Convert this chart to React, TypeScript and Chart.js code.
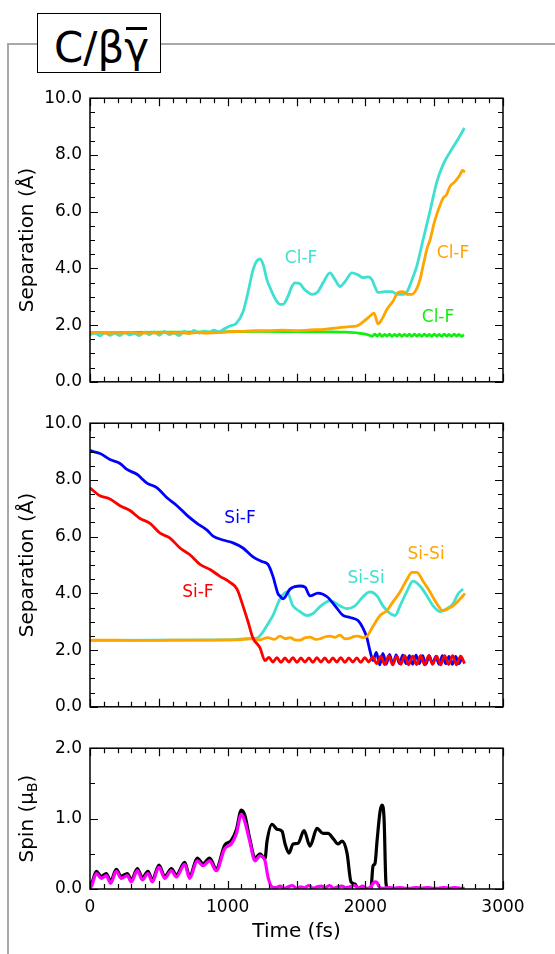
import React, { useEffect, useRef } from 'react';
import { Chart, registerables } from 'chart.js';
Chart.register(...registerables);

const FONT = 'DejaVu Sans';

const CYAN = '#40E0D0';
const ORANGE = '#FFA500';
const GREEN = '#11EE11';
const BLUE = '#0000FF';
const RED = '#FF0000';
const MAGENTA = '#FF00FF';
const BLACK = '#000000';

const X_TICK_LABELS = [0, 1000, 2000, 3000];
const SEP_TICKS = [0, 2, 4, 6, 8, 10];
const SPIN_TICKS = [0, 1, 2];

// ---------- Top panel (Cl-F separations) ----------
const topCyanT = [0,36,72,108,144,180,216,252,288,324,360,396,432,468,504,540,576,612,648,684,720,756,792,828,864,900,936,980,1017,1060,1111,1150,1184,1210,1235,1260,1285,1308,1329,1355,1380,1402,1438,1465,1489,1525,1550,1576,1613,1656,1693,1743,1780,1816,1852,1903,1947,1983,2019,2048,2070,2092,2143,2194,2230,2266,2303,2339,2375,2419,2470,2520,2564,2615,2673,2720];
const topCyanV = [1.66,1.72,1.62,1.73,1.64,1.71,1.63,1.74,1.65,1.70,1.63,1.75,1.66,1.76,1.64,1.78,1.66,1.72,1.63,1.79,1.70,1.81,1.72,1.79,1.74,1.82,1.76,1.88,1.97,2.05,2.46,3.2,3.95,4.25,4.33,4.1,3.6,3.32,3.08,2.85,2.73,2.73,3.01,3.35,3.49,3.46,3.3,3.18,3.08,3.18,3.49,3.84,3.6,3.36,3.53,3.84,3.77,3.67,3.70,3.6,3.35,3.15,3.18,3.18,3.08,3.08,3.18,3.6,4.1,5.0,6.02,7.06,7.65,8.1,8.55,8.95];

const topOrangeT = [0,60,120,180,240,300,360,420,480,540,600,660,720,780,840,900,960,1000,1100,1200,1300,1400,1500,1600,1700,1743,1800,1867,1940,1983,2034,2063,2080,2092,2121,2157,2201,2237,2274,2303,2339,2375,2397,2420,2448,2470,2500,2520,2564,2590,2615,2651,2688,2705,2724];
const topOrangeV = [1.72,1.74,1.71,1.73,1.72,1.74,1.71,1.73,1.72,1.74,1.72,1.73,1.71,1.74,1.72,1.73,1.74,1.76,1.78,1.80,1.80,1.82,1.80,1.83,1.85,1.87,1.90,1.94,1.97,2.11,2.32,2.42,2.2,2.04,2.21,2.56,2.84,3.15,3.18,3.08,3.08,3.3,3.6,4.1,4.7,5.0,5.6,5.92,6.47,6.6,6.89,7.06,7.3,7.45,7.4];

const topGreenT = [0,300,600,900,1200,1500,1700,1850,1950,2000,2030];
const topGreenV = [1.73,1.74,1.75,1.76,1.78,1.77,1.76,1.75,1.72,1.68,1.64];
const topGreenTailStart = 2050;
const topGreenTailStep = 18;
const topGreenTailV = [1.60,1.68,1.61,1.69,1.60,1.67,1.61,1.68,1.60,1.67,1.61,1.68,1.60,1.67,1.61,1.68,1.60,1.68,1.61,1.67,1.60,1.68,1.61,1.67,1.60,1.68,1.61,1.67,1.60,1.68,1.61,1.67,1.60,1.68,1.61,1.67,1.60,1.66];

// ---------- Middle panel (Si-F, Si-Si separations) ----------
const midBlueT = [0,73,145,218,268,341,414,487,559,632,705,777,850,894,966,1039,1111,1184,1249,1293,1329,1366,1380,1402,1453,1490,1525,1562,1598,1656,1722,1780,1838,1889,1947,1983,2012,2034,2056];
const midBlueV = [9.03,8.93,8.72,8.58,8.37,8.2,7.89,7.72,7.37,7.09,6.75,6.47,6.23,6.02,5.88,5.78,5.6,5.29,5.12,5.02,4.6,3.98,3.91,3.81,4.15,4.24,4.26,4.22,3.91,4.01,3.88,3.56,3.22,3.15,3.04,2.77,2.42,1.97,1.63];
const midBlueTailStart = 2080;
const midBlueTailStep = 24;
const midBlueTailV = [1.92,1.48,1.88,1.5,1.85,1.5,1.83,1.52,1.82,1.52,1.8,1.5,1.82,1.52,1.8,1.5,1.8,1.52,1.78,1.5,1.8,1.52,1.78,1.5,1.78,1.52,1.75];

const midRedT = [0,73,145,218,290,363,436,509,581,654,726,799,872,944,1017,1068,1111,1148,1184,1235,1271];
const midRedV = [7.72,7.44,7.33,7.09,6.92,6.64,6.47,6.12,5.95,5.6,5.36,5.02,4.84,4.6,4.39,4.15,3.56,3.0,2.42,2.08,1.63];
const midRedTailStart = 1300;
const midRedTailStep = 29;
const midRedTailV = [1.74,1.58,1.73,1.57,1.72,1.58,1.73,1.57,1.72,1.58,1.72,1.57,1.73,1.58,1.72,1.57,1.72,1.58,1.73,1.57,1.72,1.58,1.72,1.57,1.73,1.58,
  1.76,1.52,1.79,1.49,1.8,1.48,1.79,1.5,1.8,1.48,1.79,1.49,1.8,1.48,1.8,1.5,1.79,1.48,1.8,1.49,1.8,1.48,1.79,1.52];

const midCyanT = [0,500,1000,1140,1213,1250,1286,1329,1380,1431,1474,1525,1576,1620,1671,1743,1816,1867,1925,1983,2034,2085,2128,2179,2216,2252,2303,2346,2397,2448,2492,2542,2593,2637,2673,2710];
const midCyanV = [2.34,2.35,2.36,2.40,2.42,2.6,2.87,3.22,3.8,4.05,3.56,3.36,3.22,3.29,3.53,3.74,3.56,3.46,3.56,3.88,4.05,3.91,3.56,3.29,3.22,3.56,4.08,4.43,4.26,3.91,3.56,3.36,3.46,3.63,3.98,4.15];

const midOrangeT = [0,200,400,600,800,1000,1100,1180,1230,1290,1340,1380,1420,1453,1490,1525,1560,1598,1640,1671,1710,1743,1780,1816,1850,1889,1920,1947,1983,2012,2056,2107,2157,2201,2252,2303,2339,2375,2419,2470,2520,2564,2601,2637,2688,2724];
const midOrangeV = [2.35,2.35,2.34,2.35,2.35,2.36,2.37,2.40,2.36,2.44,2.38,2.49,2.40,2.44,2.36,2.35,2.43,2.46,2.38,2.40,2.47,2.49,2.45,2.53,2.40,2.42,2.48,2.49,2.44,2.49,2.84,3.22,3.39,3.7,4.05,4.5,4.74,4.74,4.43,4.05,3.63,3.39,3.46,3.56,3.8,4.0];

// ---------- Bottom panel (spin) ----------
const spinMagT = [0,15,46,82,118,150,191,227,271,300,344,380,421,453,501,543,591,627,688,724,779,821,869,917,978,1026,1063,1099,1124,1160,1199,1235,1271,1293,1322];
const spinMagV = [0.0,0.06,0.22,0.15,0.19,0.08,0.25,0.15,0.19,0.1,0.26,0.13,0.22,0.1,0.31,0.15,0.26,0.17,0.35,0.15,0.4,0.33,0.4,0.26,0.57,0.64,0.78,1.06,0.96,0.68,0.4,0.47,0.4,0.17,0.03];
const spinMagNoiseStart = 1350;
const spinMagNoiseStep = 30;
const spinMagNoiseV = [0.02,0.04,0.01,0.03,0.05,0.01,0.03,0.02,0.05,0.01,0.03,0.04,0.02,0.05,0.01,0.03,0.04,0.02,0.03,0.05,0.02,0.04,0.01,0.03];
const spinMagBumpT = [2056,2070,2085,2100];
const spinMagBumpV = [0.08,0.1,0.09,0.03];
const spinMagEndStart = 2130;
const spinMagEndStep = 40;
const spinMagEndV = [0.01,0.02,0.01,0.02,0.01,0.01,0.02,0.01,0.02,0.01,0.01,0.02,0.01,0.02,0.01];

const spinBlackT = [0,15,46,82,118,150,191,227,271,300,344,380,421,453,501,543,591,627,688,724,779,821,869,917,978,1026,1063,1099,1124,1160,1199,1235,1271,1286,1322,1358,1395,1417,1446,1475,1511,1555,1598,1649,1693,1729,1765,1801,1831,1867,1896,1925,1947,2000,2040,2056,2070,2085,2107,2121,2136,2150,2165,2400,2720];
const spinBlackV = [0.02,0.09,0.25,0.18,0.22,0.11,0.28,0.18,0.22,0.13,0.29,0.16,0.25,0.13,0.34,0.18,0.29,0.20,0.38,0.18,0.44,0.36,0.44,0.29,0.62,0.69,0.84,1.12,1.05,0.72,0.44,0.5,0.43,0.68,0.92,0.85,0.82,0.64,0.51,0.64,0.65,0.83,0.61,0.86,0.79,0.79,0.72,0.64,0.68,0.51,0.1,0.07,0.01,0.0,0.0,0.33,0.36,0.68,1.1,1.19,1.0,0.08,0.0,0.0,0.0];

// ---------- Curve labels (data coordinates) ----------
const topLabels = [
  { text: 'Cl-F', x: 1533, y: 4.36, color: CYAN },
  { text: 'Cl-F', x: 2637, y: 4.53, color: ORANGE },
  { text: 'Cl-F', x: 2528, y: 2.28, color: GREEN },
];
const midLabels = [
  { text: 'Si-F', x: 1090, y: 6.64, color: BLUE },
  { text: 'Si-F', x: 784, y: 4.01, color: RED },
  { text: 'Si-Si', x: 2005, y: 4.53, color: CYAN },
  { text: 'Si-Si', x: 2441, y: 5.36, color: ORANGE },
];

const pts = (t: number[], v: number[]) => t.map((x, i) => ({ x, y: v[i] }));
const grid = (start: number, step: number, v: number[]) => v.map((y, i) => ({ x: start + i * step, y }));

type TitlePart = { text: string; sub?: boolean };

function decor(o: {
  labels: { text: string; x: number; y: number; color: string }[];
  yMinor: number;
  yMajor: number;
  yTitle: TitlePart[];
  xTitle?: string;
}) {
  return {
    id: 'decor',
    afterDraw(chart: any) {
      const { ctx, chartArea: a, scales } = chart;
      const xs = scales.x;
      const ys = scales.y;
      ctx.save();
      ctx.font = `17px "${FONT}"`;
      ctx.textAlign = 'center';
      ctx.textBaseline = 'middle';
      for (const l of o.labels) {
        ctx.fillStyle = l.color;
        ctx.fillText(l.text, xs.getPixelForValue(l.x), ys.getPixelForValue(l.y));
      }
      ctx.strokeStyle = '#000';
      ctx.lineWidth = 1.5;
      ctx.strokeRect(a.left, a.top, a.right - a.left, a.bottom - a.top);
      ctx.lineWidth = 1.2;
      ctx.beginPath();
      const nx = Math.round((xs.max - xs.min) / 100);
      for (let i = 0; i <= nx; i++) {
        const v = xs.min + i * 100;
        const px = Math.round(xs.getPixelForValue(v)) + 0.5;
        const len = v % 500 === 0 ? 8 : 5;
        ctx.moveTo(px, a.bottom); ctx.lineTo(px, a.bottom - len);
        ctx.moveTo(px, a.top); ctx.lineTo(px, a.top + len);
      }
      const ny = Math.round((ys.max - ys.min) / o.yMinor);
      for (let i = 0; i <= ny; i++) {
        const v = ys.min + i * o.yMinor;
        const py = Math.round(ys.getPixelForValue(v)) + 0.5;
        const r = v / o.yMajor;
        const len = Math.abs(r - Math.round(r)) < 1e-6 ? 8 : 5;
        ctx.moveTo(a.left, py); ctx.lineTo(a.left + len, py);
        ctx.moveTo(a.right, py); ctx.lineTo(a.right - len, py);
      }
      ctx.stroke();
      ctx.fillStyle = '#000';
      ctx.textAlign = 'left';
      ctx.textBaseline = 'middle';
      const fonts = o.yTitle.map((p) => (p.sub ? `14px "${FONT}"` : `20px "${FONT}"`));
      const widths = o.yTitle.map((p, i) => { ctx.font = fonts[i]; return ctx.measureText(p.text).width; });
      const total = widths.reduce((s, w) => s + w, 0);
      ctx.save();
      ctx.translate(28, (a.top + a.bottom) / 2);
      ctx.rotate(-Math.PI / 2);
      let sx = -total / 2;
      o.yTitle.forEach((p, i) => {
        ctx.font = fonts[i];
        ctx.fillText(p.text, sx, p.sub ? 5 : 0);
        sx += widths[i];
      });
      ctx.restore();
      if (o.xTitle) {
        ctx.font = `20px "${FONT}"`;
        ctx.textAlign = 'center';
        ctx.fillText(o.xTitle, (a.left + a.right) / 2, a.bottom + 43);
      }
      ctx.restore();
    },
  };
}

function ds(data: any[], color: string, width = 2.8) {
  return {
    data,
    borderColor: color,
    backgroundColor: color,
    borderWidth: width,
    pointRadius: 0,
    fill: false,
    cubicInterpolationMode: 'monotone',
  };
}

function makeConfig(datasets: any[], yTicks: number[], showX: boolean, padding: any, plugin: any) {
  const yMax = yTicks[yTicks.length - 1];
  const yStep = yTicks[1] - yTicks[0];
  return {
    type: 'line',
    data: { datasets },
    options: {
      responsive: false,
      maintainAspectRatio: false,
      animation: false,
      layout: { padding },
      plugins: { legend: { display: false }, tooltip: { enabled: false } },
      scales: {
        x: {
          type: 'linear',
          min: X_TICK_LABELS[0],
          max: X_TICK_LABELS[X_TICK_LABELS.length - 1],
          grid: { display: false, drawTicks: false },
          border: { display: false },
          ticks: {
            display: showX,
            stepSize: X_TICK_LABELS[1] - X_TICK_LABELS[0],
            color: '#000',
            font: { family: FONT, size: 17 },
            padding: 8,
            maxRotation: 0,
            autoSkip: false,
            callback: (v: any) => String(v),
          },
          afterFit: (s: any) => { s.height = showX ? 30 : 0; },
        },
        y: {
          min: yTicks[0],
          max: yMax,
          grid: { display: false, drawTicks: false },
          border: { display: false },
          ticks: {
            stepSize: yStep,
            color: '#000',
            font: { family: FONT, size: 17 },
            padding: 8,
            callback: (v: any) => Number(v).toFixed(1),
          },
          afterFit: (s: any) => { s.width = 90; },
        },
      },
    },
    plugins: [plugin],
  };
}

export default function App() {
  const r1 = useRef<HTMLCanvasElement>(null);
  const r2 = useRef<HTMLCanvasElement>(null);
  const r3 = useRef<HTMLCanvasElement>(null);

  useEffect(() => {
    const c1 = new Chart(r1.current as any, makeConfig(
      [
        ds(pts(topOrangeT, topOrangeV), ORANGE),
        ds(pts(topCyanT, topCyanV), CYAN),
        ds([...pts(topGreenT, topGreenV), ...grid(topGreenTailStart, topGreenTailStep, topGreenTailV)], GREEN),
      ],
      SEP_TICKS, false, { left: 0, right: 52, top: 15, bottom: 16 },
      decor({ labels: topLabels, yMinor: 0.5, yMajor: 2, yTitle: [{ text: 'Separation (Å)' }] })
    ) as any);
    const c2 = new Chart(r2.current as any, makeConfig(
      [
        ds([...pts(midRedT, midRedV), ...grid(midRedTailStart, midRedTailStep, midRedTailV)], RED),
        ds(pts(midOrangeT, midOrangeV), ORANGE),
        ds([...pts(midBlueT, midBlueV), ...grid(midBlueTailStart, midBlueTailStep, midBlueTailV)], BLUE),
        ds(pts(midCyanT, midCyanV), CYAN),
      ],
      SEP_TICKS, false, { left: 0, right: 52, top: 16, bottom: 15 },
      decor({ labels: midLabels, yMinor: 0.5, yMajor: 2, yTitle: [{ text: 'Separation (Å)' }] })
    ) as any);
    const c3 = new Chart(r3.current as any, makeConfig(
      [
        ds([
          ...pts(spinMagT, spinMagV),
          ...grid(spinMagNoiseStart, spinMagNoiseStep, spinMagNoiseV),
          ...pts(spinMagBumpT, spinMagBumpV),
          ...grid(spinMagEndStart, spinMagEndStep, spinMagEndV),
          { x: 2720, y: 0.01 },
        ], MAGENTA, 3.2),
        ds(pts(spinBlackT, spinBlackV), BLACK, 3.2),
      ],
      SPIN_TICKS, true, { left: 0, right: 52, top: 15, bottom: 35 },
      decor({ labels: [], yMinor: 0.5, yMajor: 1, yTitle: [{ text: 'Spin (μ' }, { text: 'B', sub: true }, { text: ')' }], xTitle: 'Time (fs)' })
    ) as any);
    return () => { c1.destroy(); c2.destroy(); c3.destroy(); };
  }, []);

  return (
    <div style={{ position: 'absolute', left: 0, top: 0, width: 555, height: 954, overflow: 'hidden', background: '#fff' }}>
      <div style={{ position: 'absolute', left: 7, top: 43, width: 548, height: 911, borderTop: '2px solid #a8a8a8', borderLeft: '2px solid #a8a8a8', boxSizing: 'border-box' }} />
      <div style={{ position: 'absolute', left: 37, top: 13, width: 124, height: 60, border: '1.5px solid #000', boxSizing: 'border-box', background: '#fff' }}>
        <div style={{ position: 'absolute', left: 16, top: 13, fontFamily: FONT, fontSize: 42, lineHeight: '42px', whiteSpace: 'nowrap', color: '#000' }}>
          C/β<span style={{ position: 'relative' }}>γ<span style={{ position: 'absolute', left: 2, right: 2, top: 4, height: 2.5, background: '#000' }} /></span>
        </div>
      </div>
      <canvas ref={r1} width={555} height={320} style={{ position: 'absolute', left: 0, top: 80 }} />
      <canvas ref={r2} width={555} height={320} style={{ position: 'absolute', left: 0, top: 405 }} />
      <canvas ref={r3} width={555} height={224} style={{ position: 'absolute', left: 0, top: 730 }} />
    </div>
  );
}
